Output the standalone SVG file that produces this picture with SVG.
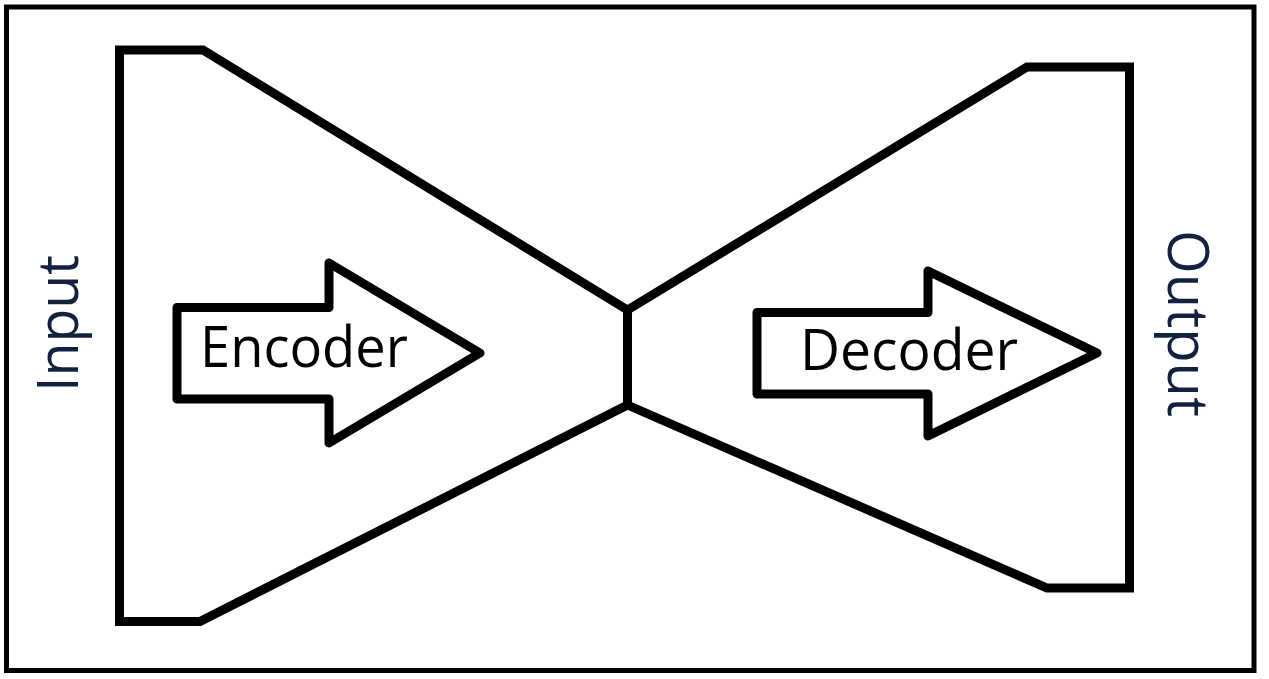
<svg xmlns="http://www.w3.org/2000/svg" width="1269" height="679" viewBox="0 0 1269 679">
<style>
.ln{fill:none;stroke:#000;stroke-width:9;stroke-linejoin:miter;stroke-miterlimit:10}
.arw{fill:#fff;stroke:#000;stroke-width:9;stroke-linejoin:round}
.lbl{font-family:"Open Sans","Noto Sans",sans-serif;font-size:57px;fill:#000}
.side{font-family:"Open Sans","Noto Sans",sans-serif;font-size:57px;fill:#13213f}
</style>
<rect x="0" y="0" width="1269" height="679" fill="#fff"/>
<rect x="6.5" y="7" width="1247.5" height="663.5" fill="none" stroke="#000" stroke-width="5"/>
<g id="encoder-block">
<polyline class="ln" points="627.5,310 203,50 119.5,50 119.5,621.5 200,621.5 627.5,405"/>
</g>
<g id="bottleneck">
<line class="ln" x1="627.5" y1="308" x2="627.5" y2="407"/>
</g>
<g id="decoder-block">
<polyline class="ln" points="627.5,310 1027,67 1129.5,67 1129.5,588 1047,588 627.5,405"/>
</g>
<g id="encoder-arrow">
<polygon class="arw" points="177,307.5 329,307.5 329,263 480,353 329,443 329,399 177,399"/>
<text class="lbl" x="200" y="367" textLength="208" lengthAdjust="spacingAndGlyphs">Encoder</text>
</g>
<g id="decoder-arrow">
<polygon class="arw" points="757,312.5 928,312.5 928,271 1097,353 928,436 928,394 757,394"/>
<text class="lbl" x="800" y="370" textLength="218" lengthAdjust="spacingAndGlyphs">Decoder</text>
</g>
<g id="input-label">
<text class="side" transform="translate(78,392) rotate(-90)" textLength="137" lengthAdjust="spacingAndGlyphs">Input</text>
</g>
<g id="output-label">
<text class="side" transform="translate(1168,230) rotate(90)" textLength="187" lengthAdjust="spacingAndGlyphs">Output</text>
</g>
</svg>
